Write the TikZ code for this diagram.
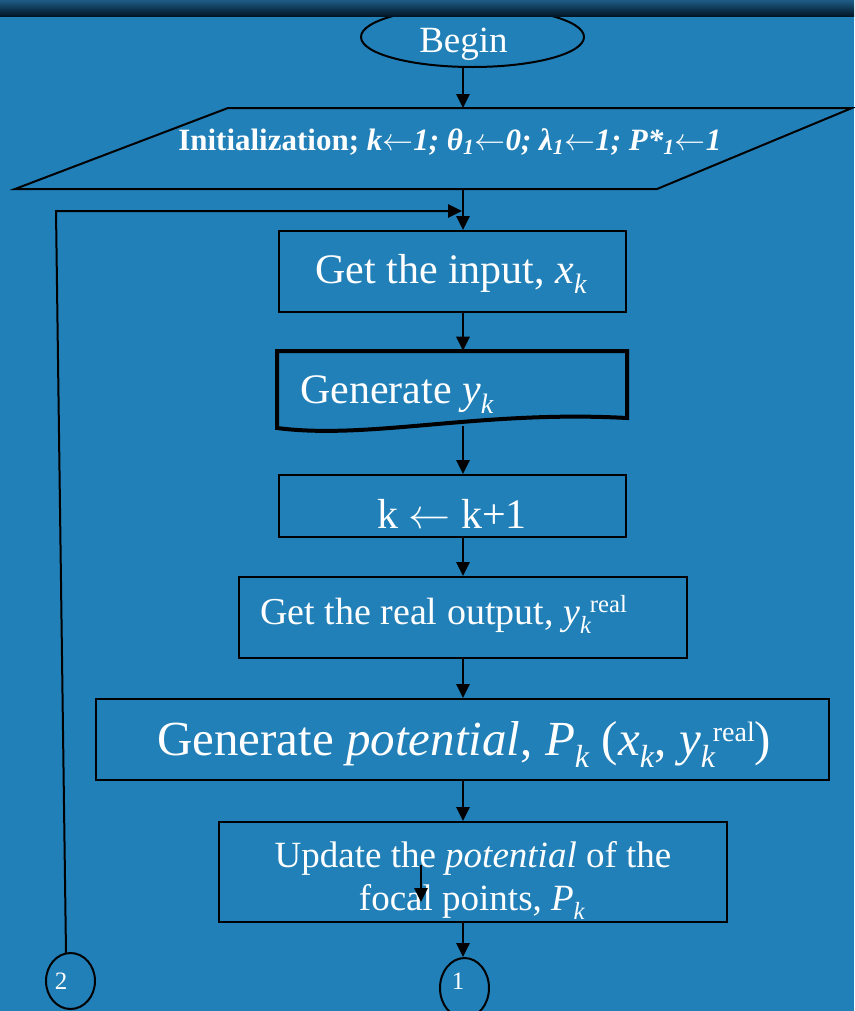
\RequirePackage{fix-cm}
\documentclass[tikz,border=0pt]{standalone}
\usepackage{fontspec}
\setmainfont{Liberation Serif}
\usetikzlibrary{arrows.meta,fit,shapes.geometric}
\definecolor{bgblue}{RGB}{33,128,184}
\definecolor{bartop}{RGB}{30,92,134}
\definecolor{barbot}{RGB}{2,22,38}
\newcommand{\fs}[1]{\fontsize{#1}{1.2\dimexpr#1pt\relax}\selectfont}
\newcommand{\la}{$\leftarrow$}
\tikzset{
  line/.style={draw=black, line width=1.5pt},
  arr/.style={line, -{Triangle[length=10.5pt,width=10pt]}},
  boxnode/.style={draw=black, line width=1.5pt, rectangle, inner sep=0pt},
  hidden/.style={rectangle, inner sep=0pt},
  txt/.style={text=white, inner sep=0pt},
}
\begin{document}
\begin{tikzpicture}[x=0.75pt,y=-0.75pt]
\useasboundingbox (0,0) rectangle (854,1011);
\fill[bgblue] (0,0) rectangle (854,1011);
\coordinate (spine) at (463,0);
% Begin
\node[ellipse, draw=black, line width=1.5pt, minimum width=167.25pt, minimum height=45pt, inner sep=0pt] (begin) at (472.5,37) {};
\shade[top color=bartop, bottom color=barbot] (0,0) rectangle (854,16);
\node[txt, anchor=base west] (tbegin) at (419,52) {\fs{27.75}Begin};
% Initialization parallelogram
\coordinate (p1) at (228,108);
\coordinate (p2) at (852,108);
\coordinate (p3) at (657,189);
\coordinate (p4) at (15,189);
\draw[line, line join=miter] (p1) -- (p2) -- (p3) -- (p4) -- cycle;
\coordinate (paran) at (463,108);
\coordinate (paras) at (463,189);
\node[txt, anchor=base west] (tinit) at (178,150) {\fs{23.25}\bfseries Initialization; \textit{k\la1; θ\textsubscript{1}\la0; λ\textsubscript{1}\la1; P*\textsubscript{1}\la1}};
% boxes
\node[boxnode, fit={(279,231) (626,312)}] (input) {};
\node[txt, anchor=base west] (tinput) at (315,283) {\fs{31.5}Get the input, \textit{x}\raisebox{-7.5pt}{\fs{21}\textit{k}}};
\node[hidden, fit={(277,351) (627,426)}] (gy) {};
\draw[draw=black, line width=3pt, line join=miter] (277,428) -- (277,351) -- (627,351) -- (627,418) .. controls (480,410) and (370,440) .. (277,428) -- cycle;
\node[txt, anchor=base west] (tgy) at (300,403) {\fs{31.5}Generate \textit{y}\raisebox{-7.5pt}{\fs{21}\textit{k}}};
\node[boxnode, fit={(279,475) (626,537)}] (kk) {};
\node[txt, anchor=base west] (tkk) at (377,528) {\fs{31.5}k \la{} k+1};
\node[boxnode, fit={(239,577) (687,658)}] (real) {};
\node[txt, anchor=base west] (treal) at (260,624) {\fs{28.5}Get the real output, \textit{y}\raisebox{-7pt}{\fs{18.5}\textit{k}}\kern-1pt\raisebox{8.5pt}{\fs{18.5}real}};
\node[boxnode, fit={(96,699) (829,780)}] (pot) {};
\node[txt, anchor=base west] (tpot) at (157,755) {\fs{36.75}Generate \textit{potential}, \textit{P}\raisebox{-9pt}{\fs{24}\textit{k}} (\textit{x}\raisebox{-9pt}{\fs{24}\textit{k}}, \textit{y}\raisebox{-9pt}{\fs{24}\textit{k}}\kern-2pt\raisebox{10pt}{\fs{21}real})};
\node[boxnode, fit={(219,822) (727,922)}] (upd) {};
\node[txt, anchor=base] (tupda) at (473,867) {\fs{27.75}Update the \textit{potential} of the};
\node[txt, anchor=base] (tupdb) at (472,910) {\fs{27.75}focal points, \textit{P}\raisebox{-7pt}{\fs{18.5}\textit{k}}};
% connectors (off-page)
\node[ellipse, draw=black, line width=1.5pt, minimum width=36.75pt, minimum height=42pt, inner sep=0pt] (c2) at (70.5,981) {};
\node[txt, anchor=base] (t2) at (61,989) {\fs{18.75}2};
\node[ellipse, draw=black, line width=1.5pt, minimum width=36.75pt, minimum height=45pt, inner sep=0pt] (c1) at (464.5,988) {};
\node[txt, anchor=base] (t1) at (458,989) {\fs{18.75}1};
% arrows
\draw[arr] (begin.south -| spine) -- (paran);
\draw[arr] (paras) -- (input.north -| spine);
\draw[arr] (input.south -| spine) -- (gy.north -| spine);
\draw[arr] (gy.south -| spine) -- (kk.north -| spine);
\draw[arr] (kk.south -| spine) -- (real.north -| spine);
\draw[arr] (real.south -| spine) -- (pot.north -| spine);
\draw[arr] (pot.south -| spine) -- (upd.north -| spine);
\draw[arr] (upd.south -| spine) -- (c1.north -| spine);
% loop back
\coordinate (c2top) at (66,953);
\coordinate (lc) at (56,211);
\coordinate (merge) at (462,211);
\draw[arr, line join=miter] (c2top) -- (lc) -- (merge);
% stray arrow inside update box
\coordinate (sa) at (421,865);
\coordinate (sb) at (421,902);
\draw[arr] (sa) -- (sb);
\end{tikzpicture}
\end{document}
